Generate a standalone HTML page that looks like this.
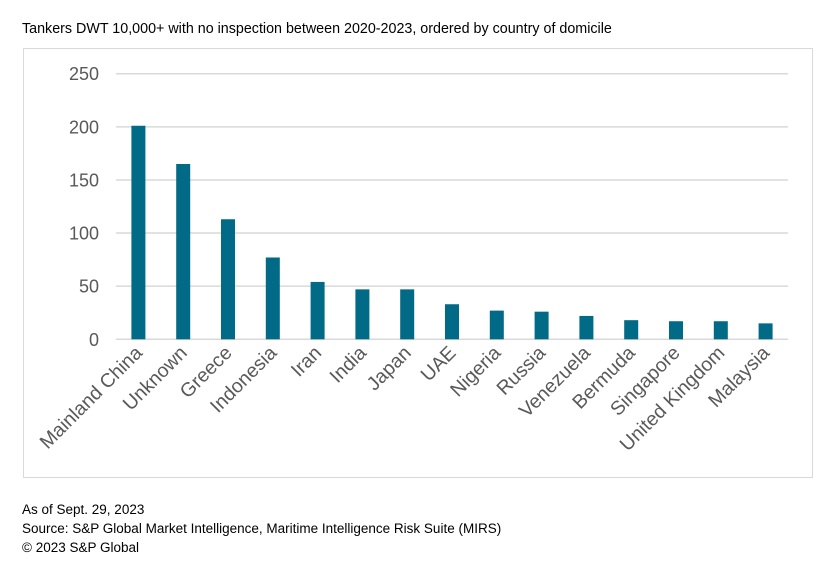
<!DOCTYPE html>
<html><head><meta charset="utf-8"><style>
body{margin:0;background:#fff;font-family:"Liberation Sans",Arial,sans-serif;}
#wrap{position:relative;width:839px;height:575px;overflow:hidden;}
.t{position:absolute;left:22px;font-size:13.5px;color:#000;}
</style></head><body>
<div id="wrap">
<div class="t" style="top:21px;font-size:14.3px;">Tankers DWT 10,000+ with no inspection between 2020-2023, ordered by country of domicile</div>
<svg id="svg" width="839" height="575" style="position:absolute;left:0;top:0">
<rect x="23.5" y="48.5" width="789" height="429" fill="none" stroke="#d9d9d9"/>
<g id="g"></g>
</svg>
<div class="t" style="top:502px;">As of Sept. 29, 2023</div>
<div class="t" style="top:521px;">Source: S&amp;P Global Market Intelligence, Maritime Intelligence Risk Suite (MIRS)</div>
<div class="t" style="top:540px;">© 2023 S&amp;P Global</div>
</div>
<script>
const categories=["Mainland China","Unknown","Greece","Indonesia","Iran","India","Japan","UAE","Nigeria","Russia","Venezuela","Bermuda","Singapore","United Kingdom","Malaysia"];
const values=[201,165,113,77,54,47,47,33,27,26,22,18,17,17,15];
const yTicks=[0,50,100,150,200,250];
const NS="http://www.w3.org/2000/svg";
const g=document.getElementById('g');
const x0=116,x1=788,y0=339.3,yMax=250,yTop=73.7;
const band=(x1-x0)/categories.length;
function y(v){return y0-(v/yMax)*(y0-yTop);}
function xc(i){return x0+band*(i+0.5);}
function mk(t,a){const e=document.createElementNS(NS,t);for(const k in a)e.setAttribute(k,a[k]);g.appendChild(e);return e;}
yTicks.forEach(v=>{
  const l=mk('line',{x1:x0,x2:x1,y1:y(v),y2:y(v),stroke:'#d9d9d9','stroke-width':1.5});
  
  
  const t=mk('text',{x:99,y:y(v)+6.5,'text-anchor':'end','font-size':18,fill:'#595959'});
  t.textContent=v;
  
  
});
categories.forEach((c,i)=>{
  const r=mk('rect',{x:xc(i)-7,y:y(values[i]),width:14,height:y0-y(values[i]),fill:'#006a87'});
  
  
  const tx=xc(i)+5,ty=354;
  const t=mk('text',{x:tx,y:ty,'text-anchor':'end','font-size':19.5,fill:'#595959',transform:`rotate(-45 ${tx} ${ty})`});
  t.textContent=c;
  
  
});
</script>
</body></html>
